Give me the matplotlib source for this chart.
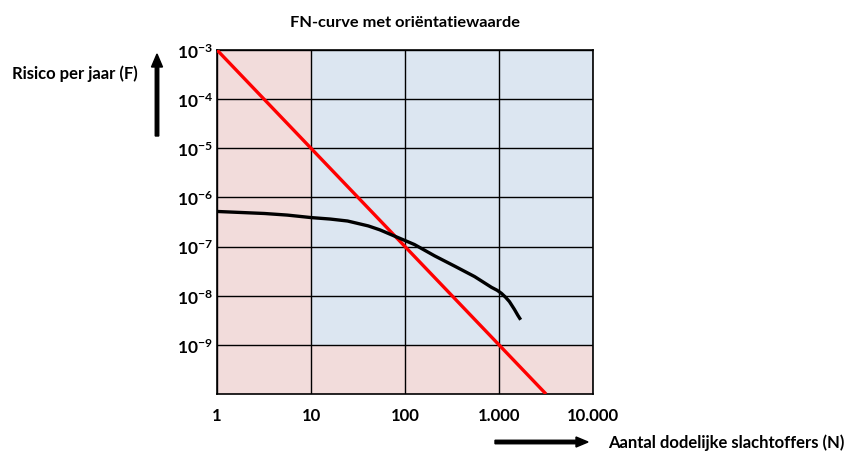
import matplotlib.pyplot as plt
from matplotlib.patches import FancyArrow
from matplotlib.ticker import FixedLocator, NullLocator

plt.rcParams['font.family'] = ['Lato', 'DejaVu Sans']
plt.rcParams['mathtext.fontset'] = 'custom'
plt.rcParams['mathtext.rm'] = 'Lato'
plt.rcParams['mathtext.bf'] = 'Lato:bold'

# data
curve_n = [1, 3.2, 5.6, 10, 16, 24.5, 40.7, 54, 71.6, 126, 207, 339, 550,
           832, 955, 1060, 1175, 1290, 1460, 1585, 1700]
curve_f = [5.18e-7, 4.71e-7, 4.37e-7, 3.89e-7, 3.63e-7, 3.31e-7, 2.63e-7,
           2.19e-7, 1.74e-7, 1.10e-7, 6.46e-8, 3.98e-8, 2.45e-8, 1.48e-8,
           1.29e-8, 1.12e-8, 9.3e-9, 7.6e-9, 5.25e-9, 4.0e-9, 3.24e-9]
# orientatiewaarde F = 1e-3 / N^2
guide_n = [1, 3162]
guide_f = [1e-3, 1e-10]

x_ticks = [1, 10, 100, 1000, 10000]
x_labels = ['1', '10', '100', '1.000', '10.000']
y_ticks = [1e-9, 1e-8, 1e-7, 1e-6, 1e-5, 1e-4, 1e-3]
y_labels = [r'$\mathbf{10^{-%d}}$' % e for e in [9, 8, 7, 6, 5, 4, 3]]

pink = '#f2dcdb'
blue = '#dce6f1'

fig = plt.figure(figsize=(8.53, 4.52), dpi=100)
ax = fig.add_axes([0.2544, 0.1261, 0.4408, 0.7611])
ax.set_xscale('log')
ax.set_yscale('log')
ax.set_xlim(1, 10000)
ax.set_ylim(1e-10, 1e-3)

ax.set_facecolor(pink)
ax.fill_between([10, 10000], 1e-9, 1e-3, color=blue, lw=0, zorder=0)

ax.xaxis.set_major_locator(FixedLocator(x_ticks))
ax.yaxis.set_major_locator(FixedLocator(y_ticks))
ax.xaxis.set_minor_locator(NullLocator())
ax.yaxis.set_minor_locator(NullLocator())
ax.set_xticklabels(x_labels, fontsize=12, fontweight='bold')
ax.set_yticklabels(y_labels, fontsize=12.5)
ax.tick_params(length=0)
ax.tick_params(axis='x', pad=9)
ax.tick_params(axis='y', pad=3)
ax.grid(True, color='black', lw=1.0, zorder=1)
ax.set_axisbelow(True)
for s in ax.spines.values():
    s.set_color('black')
    s.set_linewidth(1.2)

ax.plot(guide_n, guide_f, color='#ff0000', lw=2.4, zorder=3,
        solid_capstyle='butt')
ax.plot(curve_n, curve_f, color='black', lw=2.4, zorder=4,
        solid_capstyle='butt', solid_joinstyle='round')

fig.text(405 / 853, 1 - 23 / 452, 'FN-curve met oriëntatiewaarde',
         ha='center', va='center', fontsize=11.8, fontweight='bold')
fig.text(12 / 853, 1 - 74 / 452, 'Risico per jaar (F)',
         ha='left', va='center', fontsize=12, fontweight='bold')
fig.text(608 / 853, 1 - 443 / 452, 'Aantal dodelijke slachtoffers (N)',
         ha='left', va='center', fontsize=12, fontweight='bold')

fig.patches.append(FancyArrow(
    157 / 853, 1 - 137 / 452, 0, 82 / 452, width=3.5 / 853,
    head_width=11 / 853, head_length=13 / 452, length_includes_head=True,
    color='black', transform=fig.transFigure, figure=fig))
fig.patches.append(FancyArrow(
    495 / 853, 1 - 443 / 452, 93 / 853, 0, width=3.5 / 452,
    head_width=10 / 452, head_length=12 / 853, length_includes_head=True,
    color='black', transform=fig.transFigure, figure=fig))

fig.savefig('out.png', dpi=100)
